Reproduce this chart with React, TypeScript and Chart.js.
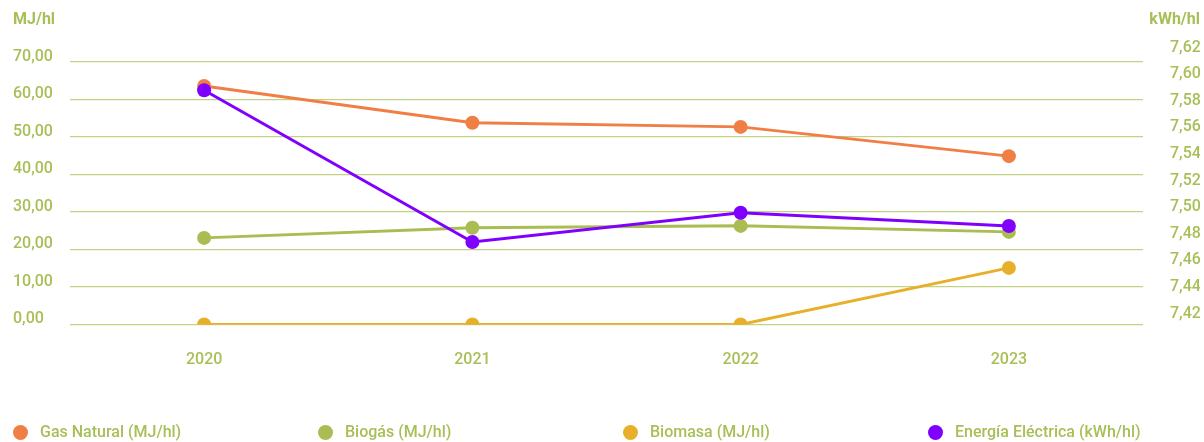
import React, { useEffect, useRef } from "react";
import { Chart, registerables } from "chart.js";

Chart.register(...registerables);

const categories = ["2020", "2021", "2022", "2023"];
const gasNatural = [63.6, 53.8, 52.7, 44.9];
const biogas = [23.1, 25.8, 26.3, 24.7];
const biomasa = [0, 0, 0, 15.1];
const energiaElectrica = [7.592, 7.478, 7.5, 7.49];

const seriesNames = ["Gas Natural (MJ/hl)", "Biogás (MJ/hl)", "Biomasa (MJ/hl)", "Energía Eléctrica (kWh/hl)"];
const seriesColors = ["#ef7f45", "#a9bd52", "#e8b02a", "#8000ff"];

const leftTitle = "MJ/hl";
const rightTitle = "kWh/hl";

const TEXT = "#a8bf57";
const FONT = "Roboto, 'Noto Sans', sans-serif";

const fmt = (v: number) => v.toFixed(2).replace(".", ",");

export default function App() {
  const ref = useRef<HTMLCanvasElement | null>(null);

  useEffect(() => {
    document.body.style.margin = "0";
    const canvas = ref.current;
    if (!canvas) return;

    const titles = {
      id: "axisTitles",
      afterDraw(chart: any) {
        const ctx = chart.ctx;
        const yl = chart.scales.y;
        const yr = chart.scales.y1;
        ctx.save();
        ctx.font = `bold 16px ${FONT}`;
        ctx.fillStyle = TEXT;
        ctx.textBaseline = "middle";
        ctx.textAlign = "left";
        ctx.fillText(leftTitle, yl.left, 20);
        ctx.textAlign = "right";
        ctx.fillText(rightTitle, yr.right, 20);
        ctx.restore();
      },
    };

    const mk = (label: string, data: number[], color: string, axis: string, order: number) => ({
      label,
      data,
      yAxisID: axis,
      order,
      borderColor: color,
      backgroundColor: color,
      pointBackgroundColor: color,
      pointBorderWidth: 0,
      pointRadius: 7,
      pointHoverRadius: 7,
      borderWidth: 3,
      tension: 0,
      fill: false,
    });

    const chart = new Chart(canvas, {
      type: "line",
      data: {
        labels: categories,
        datasets: [
          mk(seriesNames[0], gasNatural, seriesColors[0], "y", 1),
          mk(seriesNames[1], biogas, seriesColors[1], "y", 2),
          mk(seriesNames[2], biomasa, seriesColors[2], "y", 3),
          mk(seriesNames[3], energiaElectrica, seriesColors[3], "y1", 0),
        ],
      },
      options: {
        responsive: false,
        animation: false,
        layout: { padding: { top: 53, left: 13, right: 4, bottom: 77.5 } },
        plugins: {
          legend: { display: false },
          tooltip: { enabled: false },
          title: { display: false },
        },
        scales: {
          x: {
            offset: true,
            grid: { display: false },
            border: { display: false },
            ticks: { color: TEXT, font: { family: FONT, size: 16, weight: "500" }, padding: 18 },
            afterFit: (s: any) => { s.height = 40; },
          },
          y: {
            position: "left",
            min: 0,
            max: 72.4,
            border: { display: false },
            grid: { color: "#c2d282", lineWidth: 1.2, drawTicks: false },
            ticks: {
              stepSize: 10,
              includeBounds: false,
              autoSkip: false,
              crossAlign: "far",
              padding: 17,
              color: TEXT,
              font: { family: FONT, size: 16, weight: "500", lineHeight: "11px" },
              callback: (v: any) => [fmt(Number(v)), ""],
            },
            afterFit: (s: any) => { s.width = 57; },
          },
          y1: {
            position: "right",
            min: 7.416,
            max: 7.62,
            border: { display: false },
            grid: { display: false, drawTicks: false },
            ticks: {
              stepSize: 0.02,
              includeBounds: false,
              autoSkip: false,
              crossAlign: "near",
              padding: 27,
              color: TEXT,
              font: { family: FONT, size: 16, weight: "500", lineHeight: "11px" },
              callback: (v: any) => [fmt(Number(v)), ""],
            },
            afterFit: (s: any) => { s.width = 57; },
          },
        },
      },
      plugins: [titles],
    });

    return () => chart.destroy();
  }, []);

  return (
    <div style={{ position: "relative", width: 1204, height: 442 }}>
      <canvas ref={ref} width={1204} height={442} style={{ display: "block" }} />
      <div
        style={{
          position: "absolute",
          left: 13,
          top: 423,
          display: "flex",
          fontFamily: FONT,
          fontSize: 16,
          fontWeight: 500,
          color: TEXT,
          lineHeight: "18px",
        }}
      >
        {seriesNames.map((name, i) => (
          <div key={name} style={{ width: 305, display: "flex", alignItems: "center" }}>
            <span
              style={{
                display: "inline-block",
                width: 15,
                height: 15,
                borderRadius: "50%",
                background: seriesColors[i],
                marginRight: 12,
              }}
            />
            <span>{name}</span>
          </div>
        ))}
      </div>
    </div>
  );
}
